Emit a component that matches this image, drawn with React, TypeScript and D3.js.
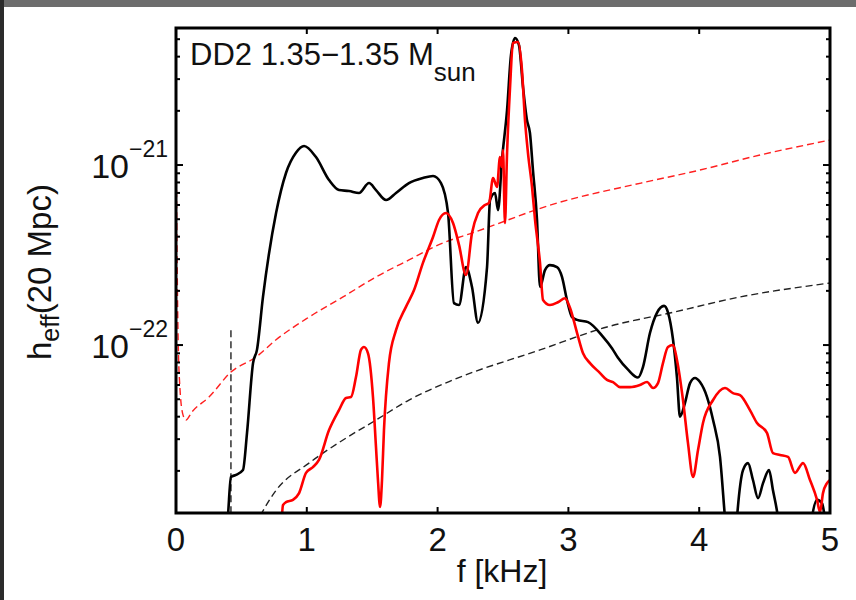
import React from "react";
import * as d3 from "d3";

// units of 1e-22
const UNIT = 1e-22;

const BLACK_F = [0.385, 0.40, 0.42, 0.459, 0.512, 0.543, 0.589, 0.619, 0.665, 0.765, 0.841, 0.917, 0.979, 1.07, 1.17, 1.246, 1.323, 1.399, 1.476, 1.529, 1.606, 1.682, 1.781, 1.888, 1.965, 2.026, 2.08, 2.125, 2.164, 2.217, 2.263, 2.309, 2.378, 2.401, 2.439, 2.462, 2.492, 2.531, 2.561, 2.592, 2.622, 2.653, 2.683, 2.706, 2.729, 2.76, 2.783, 2.821, 2.859, 2.913, 2.951, 2.989, 3.028, 3.066, 3.15, 3.265, 3.333, 3.379, 3.456, 3.532, 3.57, 3.624, 3.677, 3.731, 3.761, 3.8, 3.83, 3.853, 3.891, 3.93, 3.968, 4.006, 4.06, 4.106, 4.159, 4.197, 4.22, 4.27, 4.289, 4.335, 4.373, 4.411, 4.45, 4.488, 4.534, 4.564, 4.602, 4.63, 4.83, 4.862, 4.901, 4.939, 4.962, 5.0];
const BLACK_H = [0.08, 0.12, 0.185, 0.19, 0.202, 0.325, 0.794, 0.94, 1.85, 5.41, 9.03, 11.7, 12.75, 11.07, 8.25, 7.26, 7.17, 6.99, 7.94, 7.26, 6.39, 6.99, 7.94, 8.47, 8.69, 7.94, 5.41, 1.71, 1.67, 2.71, 2.1, 1.33, 2.71, 6.39, 6.99, 5.62, 10.66, 20.2, 40.8, 50.8, 46.4, 27.1, 17.8, 15.06, 9.38, 4.95, 2.1, 2.61, 2.78, 2.71, 2.39, 1.78, 1.43, 1.38, 1.34, 1.11, 0.96, 0.85, 0.73, 0.66, 0.755, 1.17, 1.51, 1.65, 1.52, 1.07, 0.66, 0.4, 0.476, 0.615, 0.656, 0.623, 0.514, 0.383, 0.239, 0.11, 0.07, 0.07, 0.11, 0.202, 0.221, 0.178, 0.141, 0.171, 0.202, 0.156, 0.11, 0.07, 0.07, 0.11, 0.138, 0.132, 0.11, 0.09];

const RED_F = [0.803, 0.818, 0.841, 0.894, 0.94, 0.994, 1.047, 1.093, 1.17, 1.246, 1.3, 1.338, 1.376, 1.414, 1.437, 1.468, 1.506, 1.529, 1.544, 1.56, 1.575, 1.59, 1.628, 1.682, 1.758, 1.82, 1.888, 1.965, 2.011, 2.064, 2.118, 2.164, 2.217, 2.263, 2.309, 2.362, 2.393, 2.424, 2.454, 2.477, 2.492, 2.5, 2.515, 2.531, 2.554, 2.576, 2.615, 2.645, 2.668, 2.691, 2.722, 2.745, 2.783, 2.806, 2.859, 2.92, 2.974, 3.012, 3.066, 3.112, 3.165, 3.242, 3.295, 3.341, 3.394, 3.471, 3.547, 3.601, 3.647, 3.685, 3.723, 3.761, 3.8, 3.83, 3.876, 3.914, 3.953, 3.991, 4.029, 4.106, 4.197, 4.258, 4.312, 4.388, 4.442, 4.518, 4.564, 4.618, 4.679, 4.732, 4.794, 4.847, 4.901, 4.924, 4.946, 4.977, 5.0];
const RED_H = [0.09, 0.129, 0.134, 0.138, 0.15, 0.195, 0.21, 0.23, 0.337, 0.435, 0.508, 0.514, 0.664, 0.94, 0.975, 0.9, 0.514, 0.271, 0.178, 0.126, 0.178, 0.337, 0.794, 1.21, 1.63, 2.02, 2.86, 3.98, 4.95, 5.41, 4.76, 3.59, 2.45, 4.19, 5.41, 6.0, 6.15, 8.47, 7.55, 11.07, 9.75, 12.1, 4.76, 11.66, 27.1, 47.6, 48.2, 33.7, 17.8, 11.66, 7.55, 4.95, 2.86, 1.78, 1.67, 1.73, 1.82, 1.61, 1.17, 0.9, 0.794, 0.699, 0.64, 0.623, 0.584, 0.584, 0.6, 0.623, 0.577, 0.615, 0.794, 0.975, 1.0, 0.826, 0.495, 0.286, 0.185, 0.261, 0.369, 0.495, 0.577, 0.541, 0.527, 0.435, 0.369, 0.325, 0.251, 0.245, 0.239, 0.195, 0.221, 0.178, 0.138, 0.118, 0.15, 0.171, 0.178];

const RED_NOISE_F = [0.004, 0.008, 0.015, 0.031, 0.054, 0.076, 0.122, 0.252, 0.42, 0.612, 0.765, 1.017, 1.277, 1.529, 1.781, 2.041, 2.263, 2.913, 3.555, 4.006, 4.465, 5.0];
const RED_NOISE_H = [7.26, 3.37, 1.21, 0.562, 0.408, 0.383, 0.425, 0.514, 0.708, 0.858, 1.07, 1.43, 1.85, 2.39, 2.97, 3.69, 4.19, 6.15, 7.94, 9.38, 11.37, 13.76];

const BLACK_NOISE_F = [0.604, 0.765, 1.017, 1.277, 1.529, 1.781, 2.118, 2.783, 3.295, 3.8, 4.312, 5.0];
const BLACK_NOISE_H = [0.1, 0.156, 0.221, 0.297, 0.383, 0.495, 0.64, 0.94, 1.26, 1.52, 1.85, 2.21];

const VLINE_F = 0.42;
const VLINE_TOP = 1.21;

const X_TICKS = [0, 1, 2, 3, 4, 5];
const Y_MAJOR_EXP = [-22, -21];
const Y_DOMAIN = [0.1167 * UNIT, 57.7 * UNIT];
const TITLE = "DD2 1.35\u22121.35 M";

const L = 176, R = 830, T = 28, B = 513;

export default function App() {
  const x = d3.scaleLinear().domain([0, 5]).range([L, R]);
  const y = d3.scaleLog().domain(Y_DOMAIN).range([B, T]);

  const mk = (fs: number[], hs: number[]) =>
    d3
      .line<number>()
      .x((_, i) => x(fs[i]))
      .y((_, i) => y(hs[i] * UNIT))
      .curve(d3.curveMonotoneX)(fs.map((f) => f)) || "";

  const minor: number[] = [];
  for (let e = -23; e <= -21; e++) {
    for (let m = 2; m <= 9; m++) {
      const v = m * Math.pow(10, e);
      if (v > Y_DOMAIN[0] && v < Y_DOMAIN[1]) minor.push(v);
    }
  }

  const font = "'Liberation Sans', Arial, Helvetica, sans-serif";

  return (
    <svg
      width={856}
      height={600}
      style={{ position: "absolute", left: 0, top: 0, background: "#fff" }}
      fontFamily={font}
    >
      <rect x={0} y={0} width={856} height={600} fill="#fff" />
      <rect x={0} y={0} width={856} height={7} fill="#6d6d6d" />
      <rect x={0} y={0} width={4} height={600} fill="#2b2b2b" />
      <defs>
        <clipPath id="plot">
          <rect x={L} y={T} width={R - L} height={B - T} />
        </clipPath>
      </defs>

      <g clipPath="url(#plot)" fill="none">
        <path d={mk(RED_NOISE_F, RED_NOISE_H)} stroke="#ff2020" strokeWidth={1.4} strokeDasharray="7,4" />
        <path d={mk(BLACK_NOISE_F, BLACK_NOISE_H)} stroke="#222" strokeWidth={1.4} strokeDasharray="7,4" />
        <line
          x1={x(VLINE_F)}
          x2={x(VLINE_F)}
          y1={y(VLINE_TOP * UNIT)}
          y2={B}
          stroke="#222"
          strokeWidth={1.4}
          strokeDasharray="7,4"
        />
        <path d={mk(BLACK_F, BLACK_H)} stroke="#000" strokeWidth={2.6} strokeLinejoin="round" />
        <path d={mk(RED_F, RED_H)} stroke="#ff0000" strokeWidth={2.6} strokeLinejoin="round" />
      </g>

      {/* ticks */}
      <g stroke="#000" strokeWidth={2}>
        {X_TICKS.slice(1, -1).map((t) => (
          <g key={"xt" + t}>
            <line x1={x(t)} x2={x(t)} y1={B} y2={B - 6} />
            <line x1={x(t)} x2={x(t)} y1={T} y2={T + 6} />
          </g>
        ))}
        {Y_MAJOR_EXP.map((e) => {
          const yy = y(Math.pow(10, e));
          return (
            <g key={"ym" + e}>
              <line x1={L} x2={L + 7} y1={yy} y2={yy} />
              <line x1={R} x2={R - 7} y1={yy} y2={yy} />
            </g>
          );
        })}
        {minor.map((v, i) => {
          const yy = y(v);
          return (
            <g key={"yn" + i}>
              <line x1={L} x2={L + 4} y1={yy} y2={yy} />
              <line x1={R} x2={R - 4} y1={yy} y2={yy} />
            </g>
          );
        })}
      </g>

      <rect x={L} y={T} width={R - L} height={B - T} fill="none" stroke="#000" strokeWidth={3} />

      {/* x tick labels */}
      {X_TICKS.map((t) => (
        <text key={"xl" + t} x={x(t)} y={551} textAnchor="middle" fontSize={33} fill="#111">
          {t}
        </text>
      ))}
      {/* y tick labels */}
      {Y_MAJOR_EXP.map((e) => (
        <text key={"yl" + e} x={168} y={y(Math.pow(10, e)) + 13} textAnchor="end" fontSize={34} fill="#111">
          10
          <tspan dy={-21} fontSize={23}>
            {"\u2212" + Math.abs(e)}
          </tspan>
        </text>
      ))}

      <text x={502} y={582} textAnchor="middle" fontSize={32} fill="#111">
        f [kHz]
      </text>
      <text transform="translate(51,360) rotate(-90)" fontSize={33} fill="#111">
        h
        <tspan dy={8} fontSize={25}>
          eff
        </tspan>
        <tspan dy={-8}>(20 Mpc)</tspan>
      </text>

      <text x={190} y={65} fontSize={31} fill="#111">
        {TITLE}
        <tspan dy={16} fontSize={26}>
          sun
        </tspan>
      </text>
    </svg>
  );
}
